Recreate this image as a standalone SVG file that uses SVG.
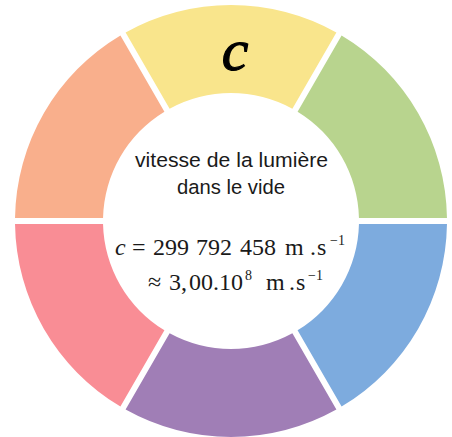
<svg xmlns="http://www.w3.org/2000/svg" xmlns:xlink="http://www.w3.org/1999/xlink" width="452" height="437" viewBox="0 0 452 437">
  <style>
    .sans { font-family: "Liberation Sans", Arial, sans-serif; font-size: 20.5px; fill: #1a1a1a; }
    .math { font-family: "Liberation Serif", "Times New Roman", serif; font-size: 24px; fill: #1a1a1a; }
    .sup { font-size: 14px; }
    .it { font-style: italic; }
  </style>
  <defs>
    <path id="seg" d="M110.59,-185.54 A216,216 0 0 1 215.98,-3 L127.96,-3 A128,128 0 0 0 66.58,-109.32 Z"/>
  </defs>
  <rect width="452" height="437" fill="#ffffff"/>
  <g id="seg-green"><use xlink:href="#seg" href="#seg" transform="translate(231,221)" fill="#B8D48E"/></g>
  <g id="seg-blue"><use xlink:href="#seg" href="#seg" transform="translate(231,221) rotate(60)" fill="#7DABDE"/></g>
  <g id="seg-purple"><use xlink:href="#seg" href="#seg" transform="translate(231,221) rotate(120)" fill="#A07EB6"/></g>
  <g id="seg-red"><use xlink:href="#seg" href="#seg" transform="translate(231,221) rotate(180)" fill="#F98D95"/></g>
  <g id="seg-orange"><use xlink:href="#seg" href="#seg" transform="translate(231,221) rotate(240)" fill="#F9AF8C"/></g>
  <g id="seg-yellow"><use xlink:href="#seg" href="#seg" transform="translate(231,221) rotate(300)" fill="#F9E58C"/>
    <text x="235" y="70" text-anchor="middle" font-family="'Liberation Serif', 'Times New Roman', serif" font-style="italic" font-size="60" fill="#000" stroke="#000" stroke-width="1.2">c</text>
  </g>
  <g id="center">
    <text class="sans" x="231.5" y="167" text-anchor="middle" textLength="193" lengthAdjust="spacingAndGlyphs">vitesse de la lumière</text>
    <text class="sans" x="231" y="193.5" text-anchor="middle" textLength="108" lengthAdjust="spacingAndGlyphs">dans le vide</text>
    <text class="math" y="255"><tspan class="it" x="115">c</tspan><tspan x="132">=</tspan><tspan x="153">299</tspan><tspan x="196">792</tspan><tspan x="240">458</tspan><tspan x="285">m</tspan><tspan x="310">.</tspan><tspan x="317">s</tspan><tspan class="sup" x="330" y="245">−1</tspan></text>
    <text class="math" y="290"><tspan x="148">≈</tspan><tspan x="169">3</tspan><tspan x="181">,</tspan><tspan x="189">00.10</tspan><tspan class="sup" x="245" y="280">8</tspan><tspan x="266" y="290">m</tspan><tspan x="289">.</tspan><tspan x="296">s</tspan><tspan class="sup" x="308" y="280">−1</tspan></text>
  </g>
</svg>
